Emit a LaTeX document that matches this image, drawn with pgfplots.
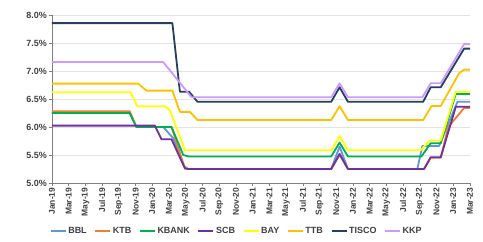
\documentclass[border=0pt]{standalone}
\usepackage{pgfplots}
\pgfplotsset{compat=1.18}
\usepackage{fontspec}
\setmainfont{Liberation Sans}
\definecolor{cBBL}{HTML}{5B9BD5}
\definecolor{cKTB}{HTML}{ED7D31}
\definecolor{cKBANK}{HTML}{00B050}
\definecolor{cSCB}{HTML}{7030A0}
\definecolor{cBAY}{HTML}{FFFF00}
\definecolor{cTTB}{HTML}{FFC000}
\definecolor{cTISCO}{HTML}{243F60}
\definecolor{cKKP}{HTML}{CC99FF}
\definecolor{txt}{HTML}{404040}
\begin{document}
\begin{tikzpicture}
\path[use as bounding box] (-52bp,-59bp) rectangle (431bp,183bp);
\begin{axis}[
  at={(0,0)}, anchor=south west,
  scale only axis, width=418bp, height=168bp,
  xmin=0, xmax=50, ymin=5, ymax=8,
  clip=false,
  xtick={0,2,...,50},
  xticklabels={Jan-19,Mar-19,May-19,Jul-19,Sep-19,Nov-19,Jan-20,Mar-20,May-20,Jul-20,Sep-20,Nov-20,Jan-21,Mar-21,May-21,Jul-21,Sep-21,Nov-21,Jan-22,Mar-22,May-22,Jul-22,Sep-22,Nov-22,Jan-23,Mar-23},
  ytick={5,5.5,6,6.5,7,7.5,8},
  yticklabels={5.0\%,5.5\%,6.0\%,6.5\%,7.0\%,7.5\%,8.0\%},
  ymajorgrids, grid style={draw=gray!22, line width=0.9pt},
  axis x line*=bottom, axis y line*=left,
  axis line style={draw=gray, line width=0.9pt, -},
  tick style={draw=gray, line width=0.6pt},
  tick align=outside, major tick length=3bp,
  x tick label style={rotate=90, anchor=east, font=\fontsize{8.5}{9}\selectfont\bfseries, text=txt, inner sep=1.5pt},
  y tick label style={font=\fontsize{9}{10}\selectfont\bfseries, text=txt, inner sep=2pt},
  every axis plot/.append style={line width=1.8bp, line join=round},
  legend columns=8,
  legend style={at={(-0.005,-0.286)}, anchor=west, draw=none, fill=none,
    font=\fontsize{9}{10}\selectfont\bfseries, text=txt,
    /tikz/every even column/.append style={column sep=6bp}, inner sep=0pt},
  legend image code/.code={\draw[#1,line width=1.2bp] (0bp,0bp) -- (15bp,0bp);},
]
% BBL
\addplot[cBBL] coordinates {(0,6.25) (9.3,6.25) (10.1,6.0) (13.3,6.0) (14.5,5.8) (15.8,5.3) (16.3,5.25) (33.4,5.25) (34.4,5.65) (35.4,5.25) (43.7,5.25) (44.3,5.66) (46.3,5.66) (48.5,6.45) (50,6.45)};
% KTB
\addplot[cKTB] coordinates {(0,6.28) (9.3,6.28) (10.1,6.0) (14.3,6.0) (15.9,5.26) (16.3,5.25) (33.4,5.25) (34.4,5.5) (35.4,5.25) (44.5,5.25) (45.3,5.45) (46.5,5.45) (47.4,6.0) (49.3,6.34) (50,6.34)};
% KBANK
\addplot[cKBANK] coordinates {(0,6.25) (9.3,6.25) (10.1,6.0) (14.3,6.0) (15.7,5.5) (16.3,5.475) (33.4,5.475) (34.4,5.72) (35.4,5.475) (44.2,5.475) (45.3,5.71) (46.5,5.71) (48.3,6.59) (50,6.59)};
% SCB
\addplot[cSCB] coordinates {(0,6.025) (12.3,6.025) (13.1,5.78) (14.3,5.78) (15.9,5.26) (16.3,5.25) (33.4,5.25) (34.4,5.52) (35.4,5.25) (44.5,5.25) (45.3,5.46) (46.5,5.46) (48.3,6.36) (50,6.36)};
% BAY
\addplot[cBAY] coordinates {(0,6.62) (9.4,6.62) (10.2,6.37) (13.5,6.37) (14.1,6.3) (15.9,5.585) (33.4,5.585) (34.4,5.84) (35.4,5.585) (44.1,5.585) (45.2,5.76) (46.5,5.76) (48.3,6.63) (50,6.63)};
% TTB
\addplot[cTTB] coordinates {(0,6.775) (10.3,6.775) (11.3,6.65) (14.4,6.65) (15.3,6.27) (16.5,6.27) (17.4,6.125) (33.4,6.125) (34.4,6.37) (35.4,6.125) (44.4,6.125) (45.4,6.375) (46.5,6.375) (48.7,6.96) (49.3,7.025) (50,7.025)};
% TISCO
\addplot[cTISCO] coordinates {(0,7.855) (14.4,7.855) (15.3,6.63) (16.4,6.63) (17.4,6.45) (33.4,6.45) (34.4,6.71) (35.4,6.45) (44.4,6.45) (45.3,6.71) (46.5,6.71) (49.3,7.4) (50,7.4)};
% KKP
\addplot[cKKP] coordinates {(0,7.16) (13.3,7.16) (16.7,6.53) (33.4,6.53) (34.4,6.78) (35.4,6.53) (44.3,6.53) (45.3,6.78) (46.5,6.78) (49.3,7.48) (50,7.48)};
\legend{BBL,KTB,KBANK,SCB,BAY,TTB,TISCO,KKP}
\end{axis}
\end{tikzpicture}
\end{document}
